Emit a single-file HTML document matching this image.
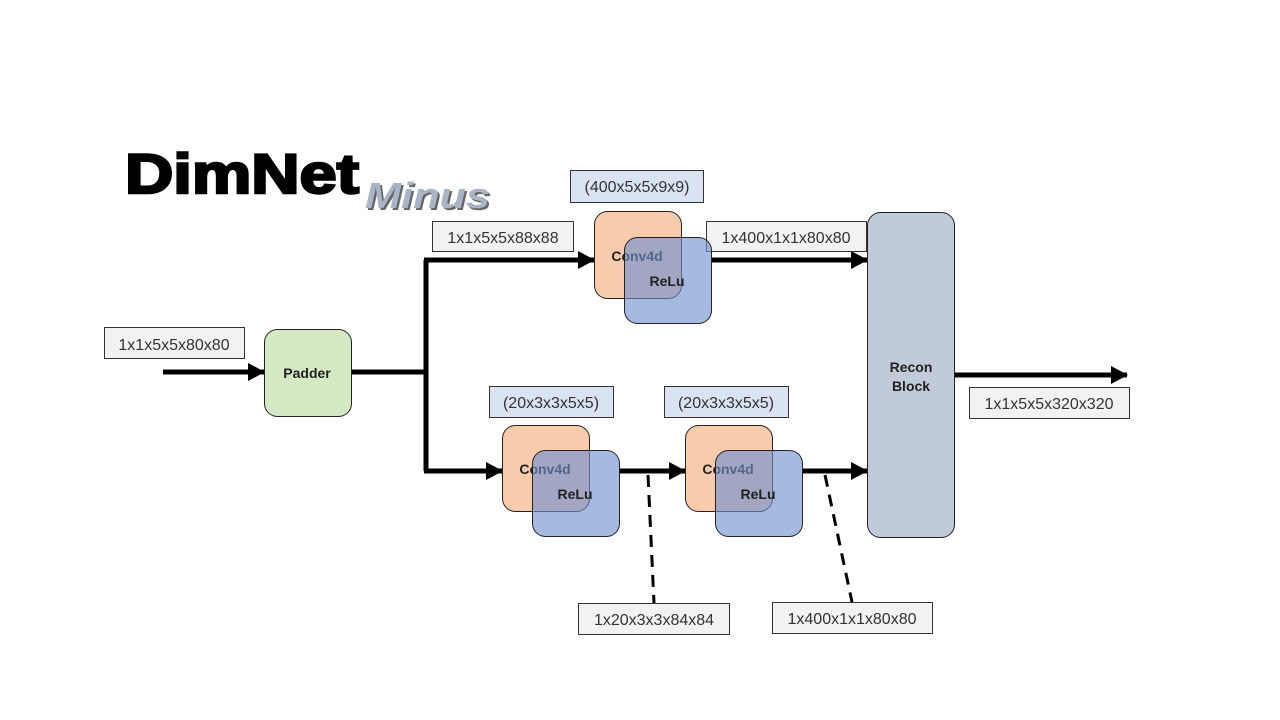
<!DOCTYPE html>
<html><head><meta charset="utf-8"><style>
html,body{margin:0;padding:0;background:#fff;}
svg{display:block;}
.lb{font-family:"Liberation Sans",sans-serif;font-size:16px;fill:#333;}
.bd{font-family:"Liberation Sans",sans-serif;font-size:14px;font-weight:bold;fill:#222;}
</style></head><body>
<svg width="1280" height="720" viewBox="0 0 1280 720" xmlns="http://www.w3.org/2000/svg">
<defs>
<marker id="ah" markerWidth="17" markerHeight="18" refX="16" refY="9" orient="auto" markerUnits="userSpaceOnUse">
<path d="M0,0 L17,9 L0,18 z" fill="#000"/>
</marker>
</defs>
<text x="125" y="193" font-family="Liberation Sans,sans-serif" font-weight="bold" font-size="56" fill="#000" stroke="#000" stroke-width="2.5" textLength="234" lengthAdjust="spacingAndGlyphs">DimNet</text>
<text x="367" y="210" font-family="Liberation Sans,sans-serif" font-weight="bold" font-style="italic" font-size="36" fill="#666" textLength="125" lengthAdjust="spacingAndGlyphs">Minus</text>
<text x="365" y="208" font-family="Liberation Sans,sans-serif" font-weight="bold" font-style="italic" font-size="36" fill="#a9b4c6" textLength="125" lengthAdjust="spacingAndGlyphs">Minus</text>

<g stroke="#000" stroke-width="5" fill="none">
<line x1="163" y1="372" x2="264" y2="372" marker-end="url(#ah)"/>
<polyline points="351,372 426,372"/>
<polyline points="426,260 426,471"/>
<line x1="424" y1="260" x2="594" y2="260" marker-end="url(#ah)"/>
<line x1="424" y1="471" x2="502" y2="471" marker-end="url(#ah)"/>
<line x1="711" y1="260" x2="867" y2="260" marker-end="url(#ah)"/>
<line x1="619" y1="471" x2="685" y2="471" marker-end="url(#ah)"/>
<line x1="802" y1="471" x2="867" y2="471" marker-end="url(#ah)"/>
<line x1="954" y1="375" x2="1127" y2="375" marker-end="url(#ah)"/>
</g>
<g stroke="#000" stroke-width="3" stroke-dasharray="12,8">
<line x1="648" y1="475" x2="654" y2="603"/>
<line x1="825" y1="475" x2="852" y2="602"/>
</g>

<g stroke="#333" stroke-width="1">
<rect x="104.5" y="327.5" width="140" height="31" fill="#f2f2f2"/>
<rect x="432.5" y="221.5" width="141" height="30" fill="#f2f2f2"/>
<rect x="706.5" y="221.5" width="160" height="30" fill="#f2f2f2"/>
<rect x="969.5" y="387.5" width="160" height="31" fill="#f2f2f2"/>
<rect x="578.5" y="603.5" width="151" height="31" fill="#f2f2f2"/>
<rect x="772.5" y="602.5" width="160" height="31" fill="#f2f2f2"/>
<rect x="570.5" y="170.5" width="133" height="32" fill="#dae3f3"/>
<rect x="489.5" y="386.5" width="124" height="31" fill="#dae3f3"/>
<rect x="664.5" y="386.5" width="124" height="31" fill="#dae3f3"/>
</g>
<text class="lb" x="174" y="350" text-anchor="middle">1x1x5x5x80x80</text>
<text class="lb" x="503" y="243" text-anchor="middle">1x1x5x5x88x88</text>
<text class="lb" x="786" y="243" text-anchor="middle">1x400x1x1x80x80</text>
<text class="lb" x="1049" y="409" text-anchor="middle">1x1x5x5x320x320</text>
<text class="lb" x="654" y="625" text-anchor="middle">1x20x3x3x84x84</text>
<text class="lb" x="852" y="624" text-anchor="middle">1x400x1x1x80x80</text>
<text class="lb" x="637" y="192" text-anchor="middle">(400x5x5x9x9)</text>
<text class="lb" x="551" y="408" text-anchor="middle">(20x3x3x5x5)</text>
<text class="lb" x="726" y="408" text-anchor="middle">(20x3x3x5x5)</text>

<rect x="264.5" y="329.5" width="87" height="87" rx="13" fill="#d5e8c4" stroke="#222"/>
<text class="bd" x="307" y="378" text-anchor="middle">Padder</text>

<rect x="867.5" y="212.5" width="87" height="325" rx="13" fill="#c1cad8" stroke="#222"/>
<text class="bd" x="911" y="372" text-anchor="middle">Recon</text>
<text class="bd" x="911" y="391" text-anchor="middle">Block</text>

<g>
<rect x="594.5" y="211.5" width="87" height="87" rx="13" fill="#f8cbad" stroke="#222"/>
<text class="bd" x="637" y="261" text-anchor="middle">Conv4d</text>
<rect x="624.5" y="237.5" width="87" height="86" rx="13" fill="#6f8fcf" fill-opacity="0.62" stroke="#222"/>
<text class="bd" x="667" y="286" text-anchor="middle">ReLu</text>

<rect x="502.5" y="425.5" width="87" height="86" rx="13" fill="#f8cbad" stroke="#222"/>
<text class="bd" x="545" y="474" text-anchor="middle">Conv4d</text>
<rect x="532.5" y="450.5" width="87" height="86" rx="13" fill="#6f8fcf" fill-opacity="0.62" stroke="#222"/>
<text class="bd" x="575" y="499" text-anchor="middle">ReLu</text>

<rect x="685.5" y="425.5" width="87" height="86" rx="13" fill="#f8cbad" stroke="#222"/>
<text class="bd" x="728" y="474" text-anchor="middle">Conv4d</text>
<rect x="715.5" y="450.5" width="87" height="86" rx="13" fill="#6f8fcf" fill-opacity="0.62" stroke="#222"/>
<text class="bd" x="758" y="499" text-anchor="middle">ReLu</text>
</g>
</svg>
</body></html>
